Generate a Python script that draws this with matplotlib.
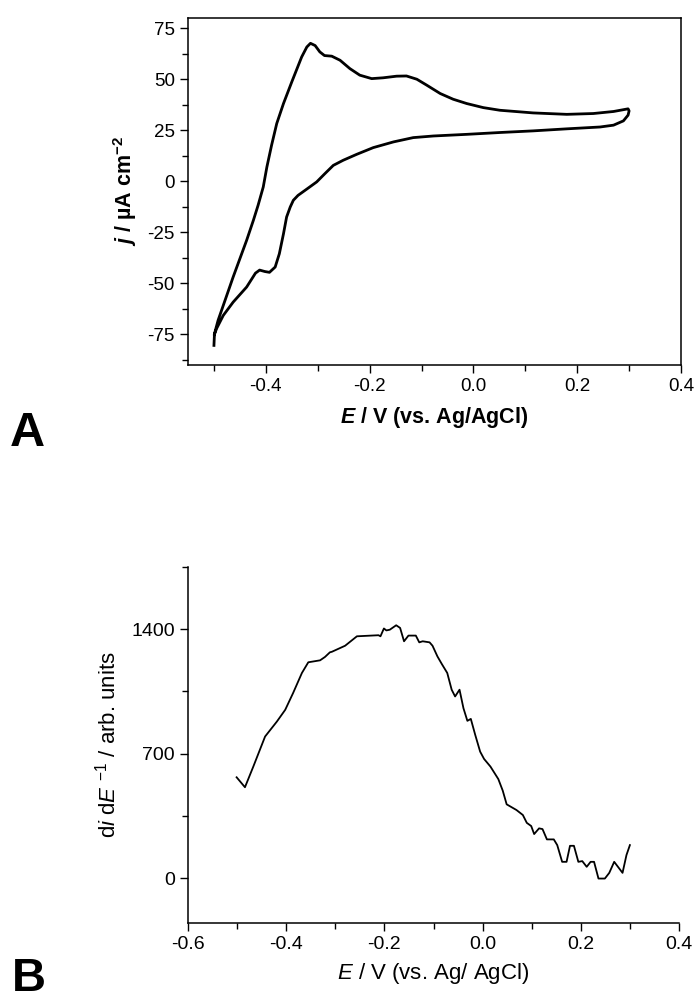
import numpy as np
import matplotlib.pyplot as plt
from matplotlib.ticker import MultipleLocator

plt.rcParams['font.family'] = ['Liberation Sans', 'DejaVu Sans']
plt.rcParams['mathtext.fontset'] = 'custom'
plt.rcParams['mathtext.rm'] = 'Liberation Sans'
plt.rcParams['mathtext.it'] = 'Liberation Sans:italic'
plt.rcParams['mathtext.bf'] = 'Liberation Sans:bold'
plt.rcParams['mathtext.bfit'] = 'Liberation Sans:italic:bold'

# panel A: cyclic voltammogram (forward sweep then reverse sweep)
cv_E = [-0.500, -0.499, -0.492, -0.482, -0.463, -0.437, -0.424, -0.415, -0.405, -0.398,
        -0.389, -0.379, -0.366, -0.350, -0.331, -0.321, -0.314, -0.305, -0.296, -0.287,
        -0.273, -0.257, -0.238, -0.219, -0.196, -0.174, -0.148, -0.129, -0.109, -0.090,
        -0.064, -0.039, -0.013, 0.019, 0.051, 0.115, 0.180, 0.231, 0.270, 0.298, 0.300,
        0.298, 0.289, 0.270, 0.244, 0.180, 0.115, 0.051, -0.013, -0.077, -0.116,
        -0.154, -0.193, -0.225, -0.251, -0.270, -0.286, -0.302, -0.321, -0.338, -0.347,
        -0.353, -0.360, -0.366, -0.374, -0.382, -0.393, -0.402, -0.412, -0.420, -0.437,
        -0.463, -0.482, -0.495, -0.499]
cv_j = [-80.4, -74.7, -68.1, -60.8, -46.9, -28.9, -19.1, -11.8, -2.8, 7.0,
        17.6, 28.3, 38.1, 48.7, 60.9, 65.8, 67.6, 66.5, 63.4, 61.6,
        61.3, 59.3, 55.2, 52.0, 50.3, 50.7, 51.5, 51.6, 50.0, 47.1,
        43.0, 40.2, 38.1, 36.1, 34.8, 33.5, 32.8, 33.2, 34.2, 35.5, 34.5,
        32.4, 29.6, 27.5, 26.6, 25.7, 24.7, 23.9, 23.0, 22.2, 21.4,
        19.3, 16.5, 13.2, 10.3, 7.8, 3.8, -0.3, -3.8, -6.9, -9.3,
        -12.6, -17.5, -25.7, -35.5, -42.0, -44.6, -44.2, -43.5, -45.0, -51.8,
        -59.2, -65.7, -72.2, -75.0]

# panel B: derivative curve
d_E = [-0.501, -0.484, -0.467, -0.443, -0.419, -0.402, -0.386, -0.368, -0.355, -0.331,
       -0.321, -0.311, -0.307, -0.280, -0.256, -0.212, -0.208, -0.201, -0.196, -0.189,
       -0.176, -0.168, -0.160, -0.151, -0.136, -0.129, -0.122, -0.108, -0.102, -0.092,
       -0.083, -0.072, -0.063, -0.056, -0.047, -0.039, -0.031, -0.024, -0.015, -0.005,
       0.003, 0.016, 0.032, 0.041, 0.049, 0.069, 0.082, 0.090, 0.099, 0.105,
       0.115, 0.122, 0.131, 0.145, 0.152, 0.162, 0.171, 0.178, 0.186, 0.195,
       0.203, 0.212, 0.220, 0.227, 0.236, 0.249, 0.258, 0.268, 0.285, 0.293, 0.300]
d_val = [567, 511, 627, 796, 880, 946, 1040, 1153, 1213, 1224,
         1243, 1269, 1272, 1306, 1359, 1365, 1359, 1403, 1392, 1396,
         1421, 1406, 1331, 1363, 1363, 1325, 1331, 1325, 1306, 1246,
         1203, 1153, 1059, 1021, 1059, 955, 884, 895, 805, 711,
         670, 627, 557, 492, 415, 383, 355, 311, 293, 248,
         280, 276, 218, 218, 186, 92, 92, 182, 182, 92,
         96, 64, 92, 92, -2, -2, 30, 92, 30, 130, 186]

fig = plt.figure(figsize=(6.95, 10.02), dpi=100)

# --- A ---
ax1 = fig.add_axes([188 / 695, 1 - 365 / 1002, 493 / 695, 347 / 1002])
ax1.plot(cv_E, cv_j, color='black', lw=2.0, solid_joinstyle='round')
ax1.set_xlim(-0.55, 0.4)
ax1.set_ylim(-90, 80)
ax1.xaxis.set_minor_locator(MultipleLocator(0.1))
ax1.yaxis.set_minor_locator(MultipleLocator(12.5))
ax1.set_xticks([-0.4, -0.2, 0.0, 0.2, 0.4])
ax1.set_xticklabels(['-0.4', '-0.2', '0.0', '0.2', '0.4'])
ax1.set_yticks([-75, -50, -25, 0, 25, 50, 75])
ax1.set_yticklabels(['-75', '-50', '-25', '0', '25', '50', '75'])
ax1.tick_params(which='major', direction='out', length=6, width=1, labelsize=13.5)
ax1.tick_params(which='minor', direction='out', length=4, width=1)
for s in ax1.spines.values():
    s.set_linewidth(1.1)
ax1.set_xlabel(r'$\mathbfit{E}$ / V (vs. Ag/AgCl)', fontsize=15.5, fontweight='bold', labelpad=7)
ax1.set_ylabel(r'$\mathbfit{j}$ / µA cm$^{\mathbf{-2}}$', fontsize=15.5, fontweight='bold', labelpad=6)
fig.text(10 / 695, 1 - 446 / 1002, 'A', fontsize=35, fontweight='bold', ha='left', va='baseline')

# --- B ---
ax2 = fig.add_axes([188 / 695, 1 - 922.7 / 1002, 491 / 695, 356 / 1002])
ax2.plot(d_E, d_val, color='black', lw=1.3)
ax2.set_xlim(-0.6, 0.4)
ax2.set_ylim(-250, 1750)
ax2.xaxis.set_minor_locator(MultipleLocator(0.1))
ax2.yaxis.set_minor_locator(MultipleLocator(350))
ax2.set_xticks([-0.6, -0.4, -0.2, 0.0, 0.2, 0.4])
ax2.set_xticklabels(['-0.6', '-0.4', '-0.2', '0.0', '0.2', '0.4'])
ax2.set_yticks([0, 700, 1400])
ax2.set_yticklabels(['0', '700', '1400'])
ax2.spines['top'].set_visible(False)
ax2.spines['right'].set_visible(False)
for s in ['left', 'bottom']:
    ax2.spines[s].set_linewidth(1.1)
ax2.tick_params(which='major', direction='out', length=6, width=1, labelsize=14)
ax2.tick_params(which='minor', direction='out', length=4, width=1)
ax2.set_xlabel(r'$\mathit{E}$ / V (vs. Ag/ AgCl)', fontsize=16, labelpad=6)
ax2.set_ylabel(r'd$\mathit{i}$ d$\mathit{E}$ $^{\mathit{-1}}$ / arb. units', fontsize=16, labelpad=8)
fig.text(12 / 695, 1 / 1002, 'B', fontsize=34, fontweight='bold', ha='left', va='bottom')

fig.savefig('out.png', dpi=100)
